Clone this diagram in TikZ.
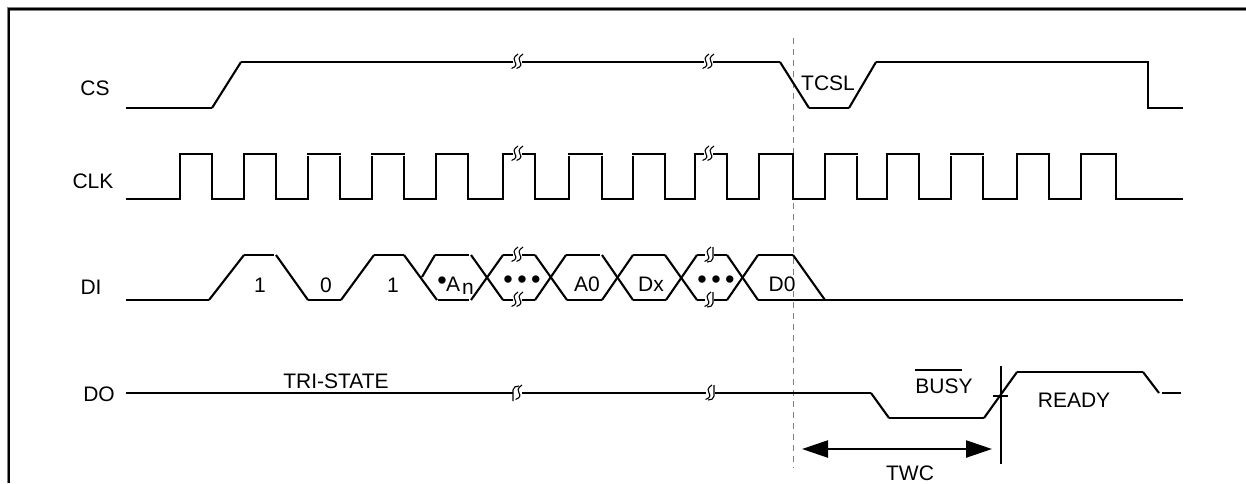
\documentclass[tikz,border=0pt]{standalone}
\usepackage{fontspec}
\setmainfont{Liberation Sans}
\usetikzlibrary{arrows.meta}
\tikzset{
  sig/.style={draw=black,line width=2.7pt,line join=miter},
  edge/.style={draw=black,line width=2.1pt},
  squig/.style={draw=black,line width=1.1pt},
  lbl/.style={font=\fontsize{21}{24}\selectfont,inner sep=0pt,text=black},
  dotsl/.style={font=\fontsize{27}{30}\selectfont,inner sep=0pt,text=black},
  guide/.style={draw=black!50,line width=1pt,dash pattern=on 6pt off 5pt},
  frameu/.style={draw=black!50,line width=3.6pt},
  framet/.style={draw=black,line width=1.9pt},
  dim/.style={draw=black,line width=2.4pt,{Triangle[length=26pt,width=17pt]}-{Triangle[length=26pt,width=17pt]}}
}
% one S-curve, centred on the origin
\newcommand{\oneS}[2]{\draw[squig] (#1+3.5,#2-8) .. controls (#1-1.5,#2-4.5) and (#1-1,#2-2.5) .. (#1+0.5,#2) .. controls (#1+2,#2+2.5) and (#1+2,#2+4.5) .. (#1-3,#2+6.5);}
% double-S break on a line
\newcommand{\brkSS}[2]{\fill[white] (#1-4.5,#2-2.2) rectangle (#1+4.5,#2+2.2);\oneS{#1-2.5}{#2}\oneS{#1+2.5}{#2}}
% S plus hooked bar
\newcommand{\brkSJ}[2]{\fill[white] (#1-4.5,#2-2.2) rectangle (#1+4.5,#2+2.2);\oneS{#1-1.5}{#2}\draw[squig] (#1+4,#2-8) -- (#1+4,#2+3) .. controls (#1+4,#2+6) and (#1+1,#2+7) .. (#1-2,#2+7);}
% hooked bar plus S
\newcommand{\brkJS}[2]{\fill[white] (#1-4.5,#2-2.2) rectangle (#1+5,#2+2.2);\oneS{#1+1.5}{#2}\draw[squig] (#1-4,#2+8) -- (#1-4,#2-3) .. controls (#1-4,#2-6) and (#1-1,#2-7) .. (#1+2,#2-7);}
\begin{document}
\begin{tikzpicture}[x=1pt,y=-1pt]
\useasboundingbox (0,0) rectangle (1246,483);
% frame
\draw[frameu] (8.6,483) -- (8.6,9.2) -- (1246,9.2);
\draw[framet] (8.6,483) -- (8.6,9.2) -- (1246,9.2);
% dashed guide
\coordinate (gtop) at (793,38);
\coordinate (gbot) at (793,468);
\draw[guide] (gtop) -- (gbot);
% labels of the signals
\node[lbl] (lcs) at (95,88) {CS};
\node[lbl] (lclk) at (93,181) {CLK};
\node[lbl] (ldi) at (91,287) {DI};
\node[lbl] (ldo) at (99,394) {DO};
% CS
\draw[sig] (126,108) -- (212,108);
\draw[edge] (212,108) -- (241,62);
\draw[sig] (241,62) -- (780,62);
\draw[edge] (780,62) -- (809,108);
\draw[sig] (809,108) -- (849,108);
\draw[edge] (849,108) -- (876,62);
\draw[sig] (876,62) -- (1148,62) -- (1148,108) -- (1183,108);
\brkSS{517}{62}
\brkSS{708}{62}
% CLK
\draw[sig] (126,199) -- (180,199) -- (180,154) -- (212,154) -- (212,199) -- (244,199) -- (244,154) -- (276,154) -- (276,199) -- (308,199) -- (308,155.5);
\draw[sig] (307,154) -- (341,154);
\draw[sig] (340,155.5) -- (340,199) -- (370.5,199);
\draw[sig] (372,199.5) -- (372,155.5);
\draw[sig] (371,154) -- (405,154);
\draw[sig] (404,155.5) -- (404,199) -- (436,199) -- (436,154) -- (468,154) -- (468,199) -- (503,199) -- (503,154) -- (535,154) -- (535,199) -- (569,199) -- (569,155.5);
\draw[sig] (568,154) -- (603,154);
\draw[sig] (602,155.5) -- (602,199) -- (633,199) -- (633,155.5);
\draw[sig] (632,154) -- (665,154) -- (665,199) -- (695,199) -- (695,154) -- (727,154) -- (727,199) -- (759,199) -- (759,154) -- (793,154) -- (793,199) -- (825,199) -- (825,154) -- (858,154);
\draw[sig] (857,155.5) -- (857,199) -- (887,199) -- (887,154) -- (919,154) -- (919,199) -- (951,199) -- (951,155.5);
\draw[sig] (950,154) -- (984,154);
\draw[sig] (983,155.5) -- (983,199) -- (1017,199) -- (1017,154) -- (1049,154) -- (1049,199) -- (1081,199) -- (1081,154) -- (1116,154) -- (1116,199) -- (1183,199);
\brkSS{517}{154}
\brkSS{708}{154}
% DI
\draw[sig] (126,300) -- (209,300);
\draw[edge] (209,300) -- (244,255);
\draw[sig] (244,255) -- (274,255);
\draw[edge] (276,255) -- (308,300);
\draw[sig] (308,300) -- (341,300);
\draw[edge] (341,300) -- (374,255);
\draw[sig] (374,255) -- (404,255);
\draw[edge] (404,255) -- (437,300);
\draw[edge] (422,277) -- (435,255);
\draw[sig] (435,255) -- (469,255);
\draw[sig] (438,300) -- (469,300);
\draw[edge] (471,255) -- (503,300);
\draw[edge] (471,300) -- (503,255);
\draw[sig] (503,255) -- (535,255);
\draw[sig] (503,300) -- (535,300);
\draw[edge] (535,255) -- (567,300);
\draw[edge] (535,300) -- (566,255);
\draw[sig] (566,255) -- (600,255);
\draw[sig] (567,300) -- (602,300);
\draw[edge] (602,255) -- (633,300);
\draw[edge] (602,300) -- (633,255);
\draw[sig] (633,255) -- (665,255);
\draw[sig] (633,300) -- (666,300);
\draw[edge] (665,255) -- (697,300);
\draw[edge] (666,300) -- (697,255);
\draw[sig] (697,255) -- (727,255);
\draw[sig] (697,300) -- (727,300);
\draw[edge] (727,255) -- (758,300);
\draw[edge] (727,300) -- (758,255);
\draw[sig] (758,255) -- (793,255);
\draw[edge] (793,255) -- (825,300);
\draw[sig] (758,300) -- (1183,300);
\brkSS{517}{255}
\brkSS{517}{300}
\brkSJ{709}{255}
\brkSJ{709}{300}
% DO
\draw[sig] (126,393) -- (871,393);
\draw[edge] (871,393) -- (889,418);
\draw[sig] (889,418) -- (984,418);
\draw[edge] (984,418) -- (1017,372);
\draw[sig] (1017,372) -- (1143,372);
\draw[edge] (1143,372) -- (1159,393);
\draw[sig] (1162,393) -- (1181,393);
\brkJS{517}{393}
\brkSJ{710}{393}
% busy/ready marker
\coordinate (mtop) at (1001,366);
\coordinate (mbot) at (1001,464);
\coordinate (tl) at (993,396);
\coordinate (tr) at (1008,396);
\coordinate (al) at (802,449);
\coordinate (ar) at (992,449);
\draw[edge] (mtop) -- (mbot);
\draw[edge] (tl) -- (tr);
\draw[dim] (al) -- (ar);
% texts
\node[lbl] (ttcsl) at (828,83) {TCSL};
\node[lbl] (ttri) at (336,381) {TRI-STATE};
\node[lbl] (tone) at (260,285) {1};
\node[lbl] (tzero) at (326,285) {0};
\node[lbl] (toneb) at (393,285) {1};
\node[dotsl] (tdot) at (442,283) {•};
\node[lbl] (ta) at (453,284) {A};
\node[lbl] (tn) at (468,289) {n};
\node[dotsl] (tda) at (522,282) {•\kern4.4pt•\kern4.4pt•};
\node[lbl] (taz) at (587,284) {A0};
\node[lbl] (tdx) at (651,284) {Dx};
\node[dotsl] (tdb) at (716,282) {•\kern4.4pt•\kern4.4pt•};
\node[lbl] (tdz) at (782,284) {D0};
\node[lbl] (tbusy) at (944,386) {BUSY};
\coordinate (ol) at (915,370);
\coordinate (or) at (962,370);
\draw[draw=black,line width=1.5pt] (ol) -- (or);
\node[lbl] (tready) at (1074,400) {READY};
\node[lbl] (ttwc) at (910,473.5) {TWC};
\end{tikzpicture}
\end{document}
